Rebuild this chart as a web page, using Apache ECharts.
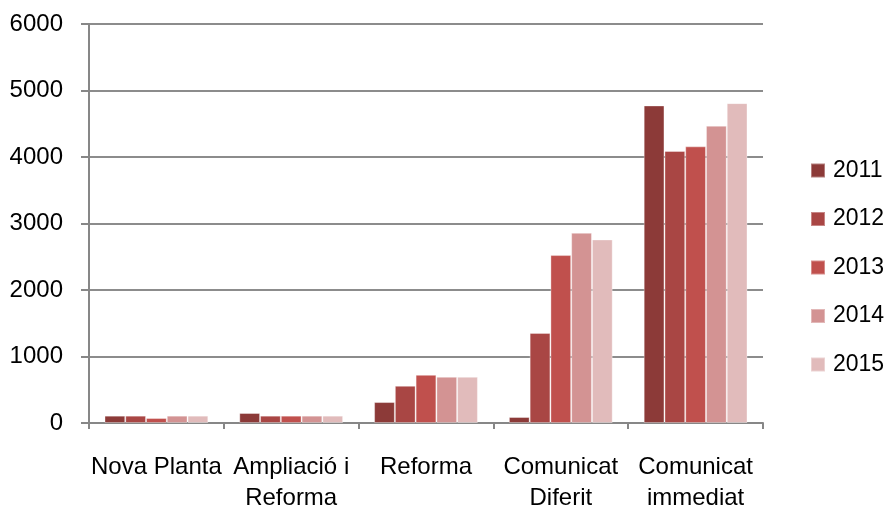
<!DOCTYPE html>
<html>
<head>
<meta charset="utf-8">
<script src="https://cdn.jsdelivr.net/npm/echarts@6/dist/echarts.min.js"></script>
<style>
  html, body { margin: 0; padding: 0; background: #fff; }
  #chart { width: 886px; height: 509px; }
</style>
</head>
<body>
<div id="chart"></div>
<script>
// Obres per tipus de tramitació, 2011-2015
const categories = ['Nova Planta', 'Ampliació i\nReforma', 'Reforma', 'Comunicat\nDiferit', 'Comunicat\nimmediat'];
const years = ['2011', '2012', '2013', '2014', '2015'];
const values2011 = [110, 150, 315, 90, 4775];
const values2012 = [110, 110, 560, 1355, 4090];
const values2013 = [75, 110, 725, 2525, 4160];
const values2014 = [110, 110, 695, 2860, 4470];
const values2015 = [110, 110, 695, 2760, 4810];
const yTicks = [0, 1000, 2000, 3000, 4000, 5000, 6000];

const seriesValues = [values2011, values2012, values2013, values2014, values2015];
const palette = ['#8c3a38', '#a94644', '#c0504d', '#d39393', '#e1bbbb'];
const fontFamily = '"Liberation Sans", Arial, sans-serif';

const chart = echarts.init(document.getElementById('chart'), null, { renderer: 'canvas' });

chart.setOption({
  animation: false,
  backgroundColor: '#ffffff',
  color: palette,
  grid: { left: 89, right: 123, top: 24, bottom: 86, containLabel: false, outerBoundsMode: 'none' },
  legend: {
    orient: 'vertical',
    left: 810,
    top: 159,
    padding: 0,
    itemWidth: 14,
    itemHeight: 14,
    itemGap: 25.5,
    icon: 'rect',
    data: years,
    textStyle: { fontFamily: fontFamily, fontSize: 23, color: '#000', padding: [0, 0, 0, 3] }
  },
  xAxis: {
    type: 'category',
    data: categories,
    boundaryGap: true,
    axisLine: { lineStyle: { color: '#878787', width: 2 } },
    axisTick: { show: true, length: 6, lineStyle: { color: '#878787', width: 2 } },
    axisLabel: {
      interval: 0,
      margin: 29,
      fontFamily: fontFamily,
      fontSize: 24,
      lineHeight: 31,
      color: '#000'
    },
    splitLine: { show: false }
  },
  yAxis: {
    type: 'value',
    min: yTicks[0],
    max: yTicks[yTicks.length - 1],
    interval: yTicks[1] - yTicks[0],
    axisLine: { show: true, lineStyle: { color: '#878787', width: 2 } },
    axisTick: { show: true, inside: false, length: 8, lineStyle: { color: '#878787', width: 2 } },
    axisLabel: {
      margin: 26,
      fontFamily: fontFamily,
      fontSize: 24,
      color: '#000',
      formatter: (v) => String(v)
    },
    splitLine: { show: true, lineStyle: { color: '#8c8c8c', width: 2 } }
  },
  series: years.map((y, i) => ({
    name: y,
    type: 'bar',
    data: seriesValues[i],
    barGap: '0%',
    barCategoryGap: '23%',
    itemStyle: { color: palette[i], borderColor: 'rgba(255,255,255,0.35)', borderWidth: 1 }
  }))
});
</script>
</body>
</html>
